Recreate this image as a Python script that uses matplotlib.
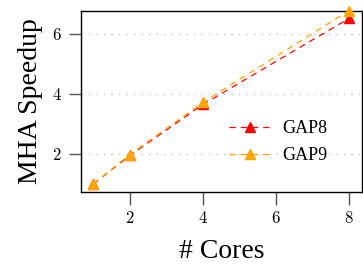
import matplotlib
matplotlib.use('Agg')
import matplotlib.pyplot as plt
from matplotlib.ticker import FuncFormatter

# Datos
cores = [1, 2, 4, 8]
gap8 = [1.0, 1.95, 3.65, 6.52]
gap9 = [1.0, 1.98, 3.72, 6.78]
series = ['GAP8', 'GAP9']
colores = ['#ff0000', '#ffa500']
xticks = [2, 4, 6, 8]
yticks = [2, 4, 6]

plt.rcParams['font.family'] = ['Liberation Serif', 'DejaVu Serif']
plt.rcParams['mathtext.fontset'] = 'cm'

fig = plt.figure(figsize=(3.63, 2.66), dpi=100)
ax = fig.add_axes([81 / 363, 74 / 266, 281 / 363, 181 / 266])

for vals, nombre, c in zip([gap8, gap9], series, colores):
    ax.plot(cores, vals, linestyle=(0, (5, 4)), color=c, lw=0.9,
            marker='^', markersize=7.5, label=nombre, clip_on=False, zorder=3)

ax.set_xlim(0.66, 8.36)
ax.set_ylim(0.73, 6.77)
ax.set_xticks(xticks)
ax.set_yticks(yticks)
fmt = FuncFormatter(lambda v, p: r'$%d$' % v)
ax.xaxis.set_major_formatter(fmt)
ax.yaxis.set_major_formatter(fmt)
ax.tick_params(labelsize=12, length=9, width=1, color='#555555', direction='out', pad=5)
ax.grid(axis='y', linestyle=(0, (1, 5)), color='#bbbbbb', lw=0.9)
for s in ax.spines.values():
    s.set_linewidth(1)

ax.set_xlabel('# Cores', fontsize=20, labelpad=8)
ax.set_ylabel('MHA Speedup', fontsize=20, labelpad=6)
ax.legend(loc='center right', bbox_to_anchor=(0.935, 0.275), frameon=False,
          fontsize=13, handlelength=2.3, labelspacing=0.55, handletextpad=0.65)

fig.savefig('out.png', dpi=100)
